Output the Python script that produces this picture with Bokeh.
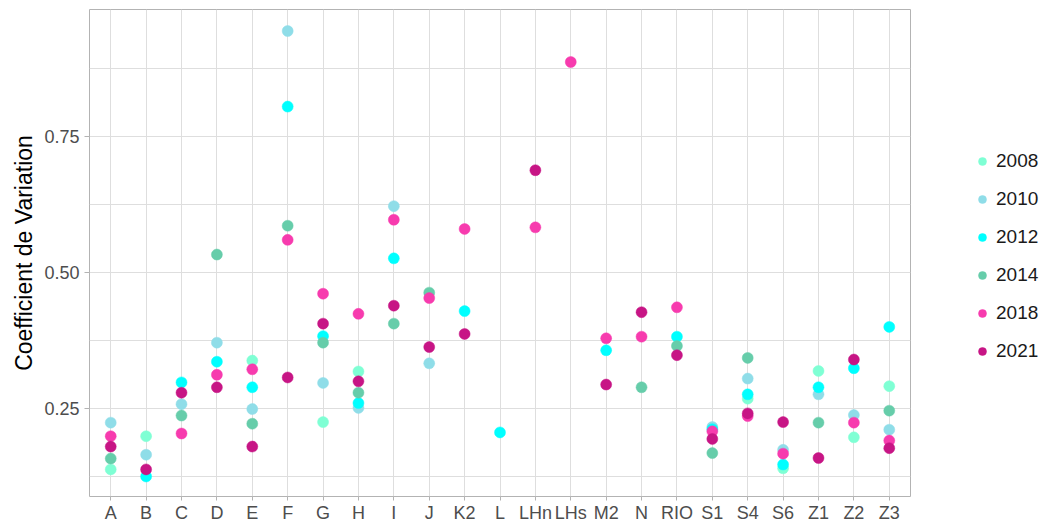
from bokeh.plotting import figure
from bokeh.layouts import row
from bokeh.models import FactorRange, Range1d, FixedTicker, Legend, LegendItem, ColumnDataSource
from bokeh.embed import file_html
from bokeh.resources import INLINE

sites = ["A", "B", "C", "D", "E", "F", "G", "H", "I", "J", "K2", "L", "LHn", "LHs",
         "M2", "N", "RIO", "S1", "S4", "S6", "Z1", "Z2", "Z3"]
years = ["2008", "2010", "2012", "2014", "2018", "2021"]
N = None
cv_2008 = [0.138, 0.199, N, N, 0.338, N, 0.225, 0.318, N, N, N, N, N, N, N, N, N, N,
           0.268, 0.140, 0.319, 0.197, 0.291]
cv_2010 = [0.224, 0.165, 0.258, 0.371, 0.249, 0.944, 0.297, 0.251, 0.622, 0.333, N, N, N, N,
           N, N, N, 0.216, 0.305, 0.174, 0.276, 0.238, 0.211]
cv_2012 = [N, 0.125, 0.298, 0.336, 0.289, 0.805, 0.383, 0.260, 0.526, N, 0.429, 0.206, N, N,
           0.357, N, 0.382, 0.212, 0.276, 0.147, 0.289, 0.324, 0.400]
cv_2014 = [0.158, N, 0.237, 0.533, 0.222, 0.586, 0.371, 0.279, 0.406, 0.463, N, N, N, N,
           N, 0.289, 0.365, 0.168, 0.343, N, 0.224, N, 0.246]
cv_2018 = [0.199, N, 0.204, 0.312, 0.322, 0.560, 0.461, 0.424, 0.597, 0.453, 0.580, N, 0.583, 0.887,
           0.379, 0.382, 0.436, 0.208, 0.236, 0.167, N, 0.224, 0.191]
cv_2021 = [0.180, 0.138, 0.279, 0.289, 0.180, 0.307, 0.406, 0.300, 0.439, 0.363, 0.387, N, 0.688, N,
           0.294, 0.427, 0.348, 0.194, 0.241, 0.225, 0.159, 0.340, 0.177]
series = [cv_2008, cv_2010, cv_2012, cv_2014, cv_2018, cv_2021]
colors = ["#7FFFD4", "#8FDDE8", "#00FFFF", "#66CDAA", "#F73BAE", "#C71585"]

y_ticks = [0.25, 0.50, 0.75]
y_minor = [0.125, 0.375, 0.625, 0.875]

FONT = "Liberation Sans"

p = figure(width=912, height=526, output_backend="svg", toolbar_location=None,
           x_range=FactorRange(factors=sites, range_padding=0.1, range_padding_units="absolute"),
           y_range=Range1d(0.0882, 0.9835),
           min_border_left=89, min_border_right=2, min_border_top=9, min_border_bottom=30)

# legend panel: a second figure sharing the data sources, whose y range lies
# above all data so only the legend shows (keeps the legend unclipped)
lg = figure(width=130, height=526, output_backend="svg", toolbar_location=None,
            x_range=FactorRange(factors=sites), y_range=Range1d(10, 11),
            min_border_left=0, min_border_right=0, min_border_top=0, min_border_bottom=0)
lg.axis.visible = False
lg.grid.visible = False
lg.outline_line_color = None

items = []
for yr, vals, col in zip(years, series, colors):
    xs = [s for s, v in zip(sites, vals) if v is not None]
    ys = [v for v in vals if v is not None]
    src = ColumnDataSource(dict(x=xs, y=ys))
    p.scatter("x", "y", source=src, size=11, fill_color=col, line_color=col, line_width=0.5)
    key = lg.scatter("x", "y", source=src, size=11, fill_color=col, line_color=col, line_width=0.5)
    items.append(LegendItem(label=yr, renderers=[key]))

legend = Legend(items=items, location=(60, 134), orientation="vertical",
                glyph_width=20, glyph_height=20, label_height=20, spacing=16,
                padding=0, margin=0, label_standoff=4,
                border_line_color=None, background_fill_alpha=0,
                label_text_font=FONT, label_text_font_size="19px", label_text_color="#1a1a1a")
lg.add_layout(legend)

p.outline_line_color = "#b3b3b3"
p.outline_line_width = 1

p.yaxis.ticker = FixedTicker(ticks=y_ticks, minor_ticks=y_minor)
p.yaxis.major_label_overrides = {0.25: "0.25", 0.5: "0.50", 0.75: "0.75"}
p.ygrid.grid_line_color = "#dedede"
p.ygrid.grid_line_width = 1
p.ygrid.minor_grid_line_color = "#dedede"
p.ygrid.minor_grid_line_width = 1
p.xgrid.grid_line_color = "#dedede"
p.xgrid.grid_line_width = 1

for ax in (p.xaxis[0], p.yaxis[0]):
    ax.axis_line_color = None
    ax.major_tick_line_color = "#b3b3b3"
    ax.major_tick_in = 0
    ax.minor_tick_line_color = None
    ax.major_label_text_font = FONT
    ax.major_label_text_font_size = "18px"
    ax.major_label_text_color = "#4d4d4d"

p.xaxis.major_tick_out = 4
p.xaxis.major_label_standoff = 2
p.yaxis.major_tick_out = 5
p.yaxis.major_label_standoff = 5

p.yaxis.axis_label = "Coefficient de Variation"
p.yaxis.axis_label_text_font = FONT
p.yaxis.axis_label_text_font_size = "23px"
p.yaxis.axis_label_text_font_style = "normal"
p.yaxis.axis_label_text_color = "#000000"
p.yaxis.axis_label_standoff = 4

p.background_fill_color = "white"
p.border_fill_color = "white"

layout = row(p, lg, spacing=0)
open("out.html", "w").write(file_html(layout, INLINE))
